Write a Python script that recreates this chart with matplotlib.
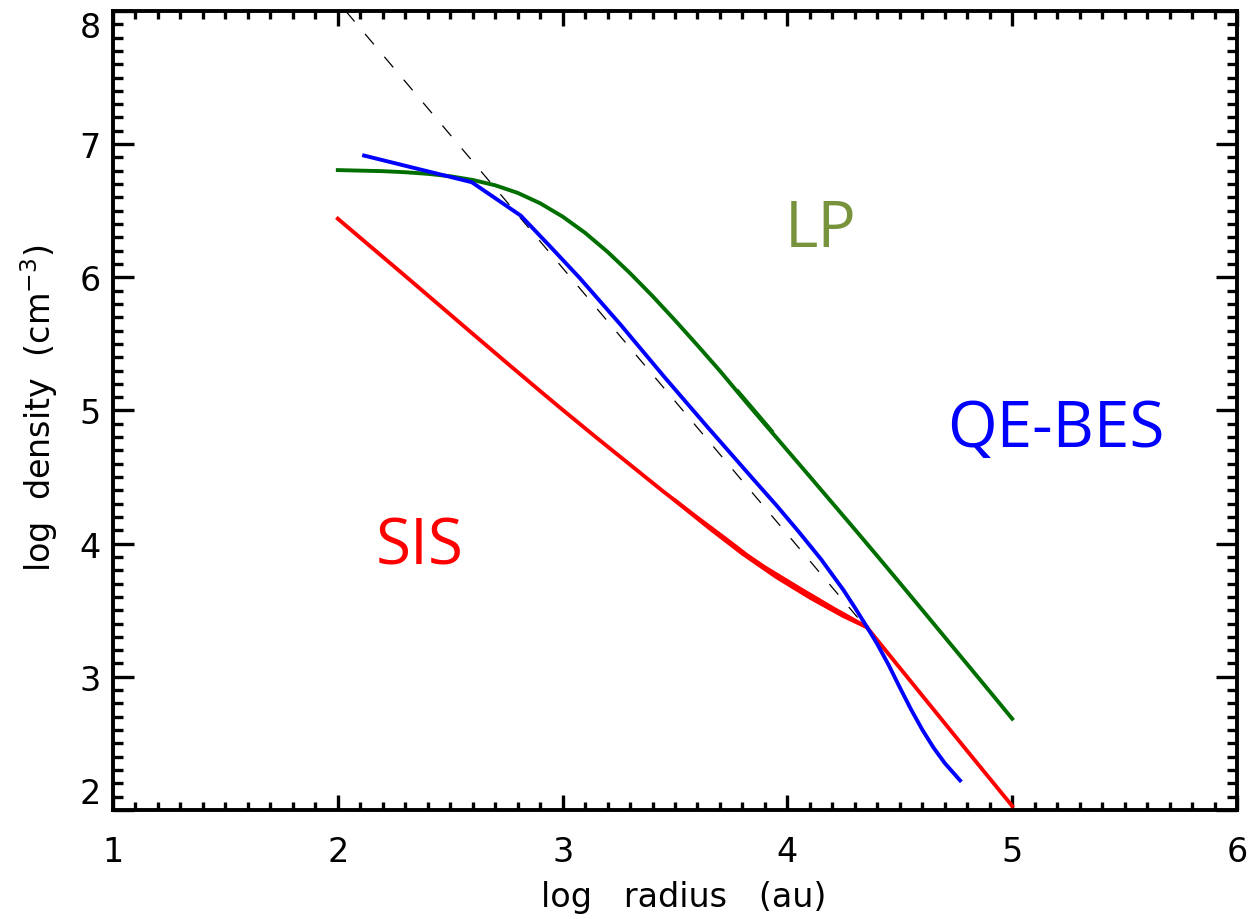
import matplotlib
matplotlib.use("Agg")
import matplotlib.pyplot as plt
from matplotlib.ticker import MultipleLocator

# --- density profiles (log radius [au], log density [cm^-3]) ---
sis_x = [2.00, 2.15, 2.30, 2.45, 2.60, 2.75, 2.90, 3.00, 3.15, 3.30, 3.45, 3.60, 3.75, 3.819,
         3.90, 4.05, 4.20, 4.353, 4.60, 4.80, 5.00]
sis_y = [6.440, 6.225, 6.010, 5.793, 5.576, 5.360, 5.146, 5.005, 4.797, 4.593, 4.389, 4.195, 4.005, 3.915,
         3.822, 3.668, 3.518, 3.373, 2.859, 2.443, 2.030]

# second SIS track, visible where it separates slightly from the first
sis2_x = [3.50, 3.65, 3.80, 3.95, 4.10, 4.25, 4.353]
sis2_y = [4.324, 4.120, 3.925, 3.750, 3.595, 3.455, 3.373]

lp_x = [2.00, 2.10, 2.20, 2.30, 2.40, 2.50, 2.60, 2.70, 2.80, 2.90, 3.00, 3.10, 3.20, 3.30, 3.40,
        3.50, 3.60, 3.70, 3.80, 3.90, 4.00, 4.10, 4.20, 4.30, 4.40, 4.50, 4.60, 4.70, 4.80, 4.90, 5.00]
lp_y = [6.805, 6.801, 6.797, 6.789, 6.777, 6.759, 6.731, 6.691, 6.634, 6.556, 6.456, 6.334, 6.191,
        6.031, 5.859, 5.677, 5.489, 5.297, 5.095, 4.897, 4.700, 4.503, 4.305, 4.107, 3.907, 3.705,
        3.502, 3.298, 3.094, 2.890, 2.685]

# short doubled stretch of the LP curve
lp2_x = [3.78, 3.85, 3.93]
lp2_y = [5.143, 5.005, 4.846]

be_x = [2.117, 2.596, 2.814, 2.95, 3.077, 3.26, 3.456, 3.65, 3.847, 3.95, 4.05, 4.15, 4.25, 4.30,
        4.359, 4.40, 4.45, 4.50, 4.55, 4.60, 4.65, 4.70, 4.768]
be_y = [6.914, 6.714, 6.463, 6.222, 5.993, 5.640, 5.245, 4.865, 4.486, 4.290, 4.090, 3.882, 3.650, 3.520,
        3.360, 3.245, 3.090, 2.920, 2.755, 2.603, 2.468, 2.352, 2.222]

# r^-2 reference power law
pl_x = [2.035, 4.34]
pl_y = [8.00, 3.39]

x_ticks = [1, 2, 3, 4, 5, 6]
y_ticks = [2, 3, 4, 5, 6, 7, 8]

labels = ["LP", "QE-BES", "SIS"]
label_x = [4.149, 5.195, 2.366]
label_y = [6.363, 4.860, 3.975]
label_colors = ["#77933c", "#0000ff", "#ff0000"]

plt.rcParams["font.family"] = ["DejaVu Sans"]

fig = plt.figure(figsize=(12.5, 9.2), dpi=100)
ax = fig.add_axes([0.0904, 0.1185, 0.8992, 0.8685])

lw = 2.8
ax.plot(pl_x, pl_y, color="black", lw=0.9, dashes=(11, 13), zorder=1)
ax.plot(lp_x, lp_y, color="#006f00", lw=lw, zorder=2, solid_joinstyle="round")
ax.plot(lp2_x, lp2_y, color="#006f00", lw=lw, zorder=2, solid_joinstyle="round")
ax.plot(sis_x, sis_y, color="#ff0000", lw=lw, zorder=3, solid_joinstyle="round")
ax.plot(sis2_x, sis2_y, color="#ff0000", lw=lw, zorder=3, solid_joinstyle="round")
ax.plot(be_x, be_y, color="#0000ff", lw=lw, zorder=4, solid_joinstyle="round")

for t, tx, ty, c in zip(labels, label_x, label_y, label_colors):
    ax.text(tx, ty, t, color=c, fontsize=46, family="Open Sans",
            ha="center", va="center")

ax.set_xlim(1, 6)
ax.set_ylim(2, 8)
ax.set_xticks(x_ticks)
ax.set_yticks(y_ticks)
ax.set_xticklabels([str(v) for v in x_ticks])
ax.set_yticklabels([str(v) for v in y_ticks])
ax.xaxis.set_minor_locator(MultipleLocator(0.1))
ax.yaxis.set_minor_locator(MultipleLocator(0.1))

for s in ax.spines.values():
    s.set_linewidth(2.8)

ax.tick_params(axis="both", which="both", direction="in", top=True, right=True,
               width=2.4, labelsize=24)
ax.tick_params(axis="x", which="major", length=10.8, pad=18)
ax.tick_params(axis="x", which="minor", length=5.8)
ax.tick_params(axis="y", which="major", length=15, pad=9)
ax.tick_params(axis="y", which="minor", length=7.2)

# end labels of the density axis sit inside the frame
yl = ax.get_yticklabels()
yl[0].set_va("bottom")
yl[-1].set_va("top")

ax.set_xlabel("log   radius   (au)", fontsize=24)
ax.set_ylabel("log  density  (cm$^{-3}$)", fontsize=24)
ax.xaxis.set_label_coords(0.508, -0.088)
ax.yaxis.set_label_coords(-0.047, 0.504)

fig.savefig("out.png", dpi=100)
